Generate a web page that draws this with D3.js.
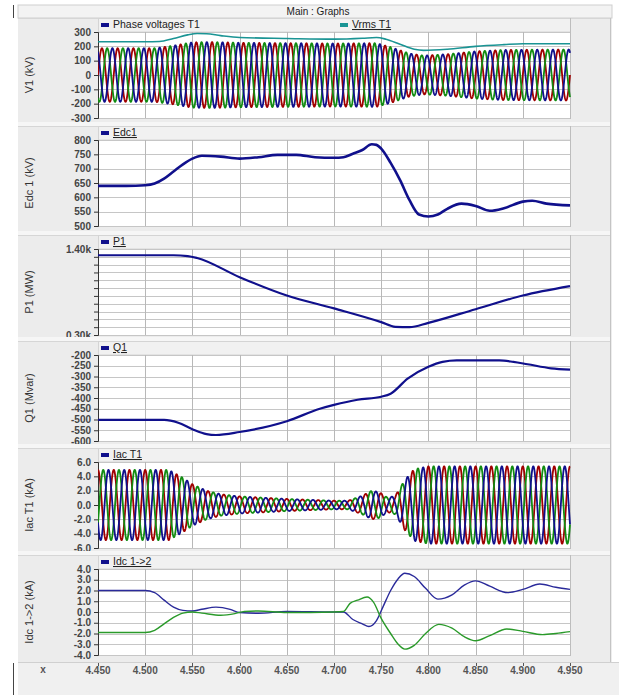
<!DOCTYPE html>
<html>
<head>
<meta charset="utf-8">
<script src="https://cdn.jsdelivr.net/npm/d3@7"></script>
<style>
  body { margin: 0; background: #fff; font-family: "Liberation Sans", Arial, sans-serif; }
</style>
</head>
<body>
<div id="chart"></div>
<script>
// ---- data (time in s) ----
var xTicks = [4.45, 4.5, 4.55, 4.6, 4.65, 4.7, 4.75, 4.8, 4.85, 4.9, 4.95];
var freq = 60; // Hz, carrier for the 3-phase waveforms

// envelope of phase voltages (kV peak)
var vPhaseEnv = [[4.45,187],[4.51,187],[4.53,205],[4.55,228],[4.57,230],[4.6,225],[4.7,220],[4.745,222],
  [4.76,195],[4.78,150],[4.795,135],[4.82,145],[4.85,165],[4.88,175],[4.95,178]];
var vrms = [[4.45,232],[4.5,232],[4.515,234],[4.53,255],[4.545,280],[4.555,290],[4.565,288],[4.58,275],
  [4.6,262],[4.65,255],[4.7,250],[4.73,256],[4.745,262],[4.755,250],[4.77,215],[4.785,180],[4.795,172],
  [4.82,180],[4.85,200],[4.88,212],[4.9,218],[4.95,218]];
var edc1 = [[4.45,640],[4.48,640],[4.5,642],[4.51,648],[4.52,665],[4.53,690],[4.54,715],[4.55,735],[4.56,745],
  [4.58,742],[4.6,735],[4.62,740],[4.64,748],[4.66,748],[4.68,740],[4.7,738],[4.71,740],[4.72,752],[4.73,765],
  [4.74,785],[4.745,783],[4.75,770],[4.76,720],[4.77,660],[4.78,590],[4.79,540],[4.8,533],[4.81,540],[4.82,560],
  [4.835,578],[4.85,570],[4.865,553],[4.88,562],[4.9,585],[4.91,588],[4.925,578],[4.95,572]];
var p1 = [[4.45,1320],[4.53,1320],[4.545,1310],[4.555,1285],[4.6,1040],[4.65,805],[4.7,640],[4.75,465],
  [4.765,405],[4.78,400],[4.8,455],[4.85,630],[4.9,805],[4.95,925]];
var q1 = [[4.45,-502],[4.52,-502],[4.535,-515],[4.55,-545],[4.565,-568],[4.575,-572],[4.6,-558],[4.65,-508],
  [4.685,-450],[4.7,-432],[4.725,-408],[4.75,-394],[4.76,-380],[4.778,-310],[4.8,-255],[4.815,-232],[4.83,-225],
  [4.875,-225],[4.89,-232],[4.905,-243],[4.93,-262],[4.95,-268]];
// envelope of phase currents (kA peak)
var iacEnv = [[4.45,4.9],[4.525,4.9],[4.54,3.8],[4.55,2.9],[4.565,2.0],[4.58,1.5],[4.6,1.2],[4.65,0.85],
  [4.7,0.6],[4.715,0.6],[4.73,1.3],[4.74,2.0],[4.748,1.8],[4.757,1.0],[4.765,1.3],[4.775,3.5],[4.785,5.0],
  [4.8,5.4],[4.95,5.4]];
var idcPos = [[4.45,2.0],[4.5,2.0],[4.51,1.8],[4.52,1.1],[4.53,0.45],[4.54,0.15],[4.55,0.1],[4.56,0.25],
  [4.575,0.45],[4.59,0.25],[4.6,-0.05],[4.62,-0.12],[4.65,0.05],[4.7,0.0],[4.71,0.0],[4.72,-0.7],[4.73,-1.1],
  [4.737,-1.35],[4.745,-0.8],[4.752,0.5],[4.76,2.0],[4.768,3.1],[4.775,3.6],[4.785,3.3],[4.797,2.2],[4.81,1.2],
  [4.825,1.6],[4.838,2.5],[4.85,2.9],[4.865,2.4],[4.884,1.8],[4.9,2.1],[4.918,2.6],[4.935,2.3],[4.95,2.1]];
var idcNeg = [[4.45,-1.9],[4.5,-1.9],[4.51,-1.7],[4.52,-1.1],[4.53,-0.5],[4.54,-0.1],[4.55,0.0],[4.56,-0.1],
  [4.58,-0.3],[4.595,-0.15],[4.605,0.05],[4.62,0.1],[4.65,-0.05],[4.7,0.0],[4.71,0.05],[4.717,0.8],[4.725,1.1],
  [4.735,1.4],[4.742,0.9],[4.75,-0.6],[4.76,-2.0],[4.768,-3.0],[4.775,-3.45],[4.785,-3.1],[4.797,-2.0],
  [4.811,-1.15],[4.825,-1.5],[4.838,-2.3],[4.85,-2.68],[4.865,-2.2],[4.883,-1.58],[4.9,-1.8],[4.921,-2.1],
  [4.935,-2.0],[4.95,-1.83]];

var phaseColors = ['#a00000', '#128c12', '#10108c'];

var W = 619, H = 695;
var svg = d3.select('#chart').append('svg').attr('width', W).attr('height', H);

var x = d3.scaleLinear().domain([4.45, 4.95]).range([98, 570]);

// window frame
svg.append('rect').attr('x', 18).attr('y', 5).attr('width', 594).attr('height', 658).attr('fill', '#ededed');
svg.append('rect').attr('x', 18).attr('y', 5).attr('width', 594).attr('height', 13).attr('fill', '#f3f3f3')
  .attr('stroke', '#cfcfcf');
svg.append('text').attr('x', 318).attr('y', 15).attr('text-anchor', 'middle')
  .style('font-size', '10px').attr('fill', '#222').text('Main : Graphs');
svg.append('rect').attr('x', 18).attr('y', 662).attr('width', 601).attr('height', 33).attr('fill', '#f0f0f0');
svg.append('line').attr('x1', 18).attr('x2', 619).attr('y1', 662.5).attr('y2', 662.5).attr('stroke', '#d0d0d0');
svg.append('line').attr('x1', 13.5).attr('x2', 13.5).attr('y1', 5).attr('y2', 18).attr('stroke', '#444');
svg.append('line').attr('x1', 13.5).attr('x2', 13.5).attr('y1', 663).attr('y2', 695).attr('stroke', '#444');
svg.append('line').attr('x1', 610.5).attr('x2', 610.5).attr('y1', 18).attr('y2', 662).attr('stroke', '#c4c4c4');

function sampled(env, phaseDeg) {
  var amp = d3.scaleLinear().domain(env.map(d => d[0])).range(env.map(d => d[1]));
  return d3.range(4.45, 4.9501, 0.0002).map(t => [t, amp(t) * Math.sin(2 * Math.PI * freq * t + phaseDeg * Math.PI / 180)]);
}

// plain hyphen for negatives, as in the original
function hy(f) { return v => f(v).replace('\u2212', '-'); }

var panels = [
  { top: 32, dom: [-300, 300], ticks: d3.range(-300, 301, 100), fmt: hy(d3.format('d')), label: 'V1 (kV)',
    legend: [{ name: 'Phase voltages T1', color: '#10108c', x: 101, u: false }, { name: 'Vrms T1', color: '#1a9494', x: 340, u: true }] },
  { top: 140, dom: [500, 800], ticks: d3.range(500, 801, 50), fmt: hy(d3.format('d')), label: 'Edc 1 (kV)',
    legend: [{ name: 'Edc1', color: '#10108c', x: 101, u: true }] },
  { top: 249, dom: [300, 1400], ticks: d3.range(300, 1401, 100), fmt: v => (v === 300 || v === 1400) ? (v / 1000).toFixed(2) + 'k' : '', label: 'P1 (MW)',
    legend: [{ name: 'P1', color: '#10108c', x: 101, u: true }] },
  { top: 355, dom: [-600, -200], ticks: d3.range(-600, -199, 50), fmt: hy(d3.format('d')), label: 'Q1 (Mvar)',
    legend: [{ name: 'Q1', color: '#10108c', x: 101, u: true }] },
  { top: 462, dom: [-6, 6], ticks: d3.range(-6, 6.01, 2), fmt: hy(d3.format('.1f')), label: 'Iac T1 (kA)',
    legend: [{ name: 'Iac T1', color: '#10108c', x: 101, u: true }] },
  { top: 569, dom: [-4, 4], ticks: d3.range(-4, 4.01, 1), fmt: hy(d3.format('.1f')), label: 'Idc 1->2 (kA)',
    legend: [{ name: 'Idc 1->2', color: '#10108c', x: 101, u: true }] }
];
var ph = 86;

panels.forEach(function(p, i) {
  var outerTop = p.top - 14;
  var outerBot = i < panels.length - 1 ? panels[i + 1].top - 18 : 662;
  var g = svg.append('g');
  g.append('rect').attr('x', 18).attr('y', outerTop).attr('width', 592).attr('height', outerBot - outerTop)
    .attr('fill', '#ececec');
  g.append('line').attr('x1', 18).attr('x2', 610).attr('y1', outerTop + 0.5).attr('y2', outerTop + 0.5).attr('stroke', '#d6d6d6');
  if (i > 0) g.append('rect').attr('x', 18).attr('y', outerTop - 4).attr('width', 592).attr('height', 4).attr('fill', '#f6f6f6');
  // legend strip
  g.append('rect').attr('x', 98.5).attr('y', outerTop + 0.5).attr('width', 472).attr('height', 13.5)
    .attr('fill', '#f1f1f1').attr('stroke', '#d4d4d4');

  var y = d3.scaleLinear().domain(p.dom).range([p.top + ph, p.top]);
  g.append('rect').attr('x', 98).attr('y', p.top).attr('width', 472).attr('height', ph).attr('fill', '#fff');
  g.selectAll('.hg').data(p.ticks).enter().append('line')
    .attr('x1', 98).attr('x2', 570).attr('y1', d => Math.round(y(d)) + 0.5).attr('y2', d => Math.round(y(d)) + 0.5)
    .attr('stroke', '#c6c6c6');
  g.selectAll('.vg').data(xTicks).enter().append('line')
    .attr('x1', d => Math.round(x(d)) + 0.5).attr('x2', d => Math.round(x(d)) + 0.5)
    .attr('y1', p.top).attr('y2', p.top + ph).attr('stroke', '#b8b8b8');
  g.append('line').attr('x1', 570.5).attr('x2', 570.5).attr('y1', outerTop).attr('y2', p.top + ph + 1).attr('stroke', '#bdbdbd');

  var ax = g.append('g').attr('transform', 'translate(98,0)')
    .call(d3.axisLeft(y).tickValues(p.ticks).tickFormat(p.fmt).tickSize(4).tickPadding(3));
  ax.select('.domain').attr('stroke', '#333');
  ax.selectAll('line').attr('stroke', '#333');
  ax.selectAll('text').style('font-size', '10px').style('font-weight', 'bold').attr('fill', '#444')
    .style('font-family', '"Liberation Sans", Arial, sans-serif');

  g.append('text').attr('transform', 'translate(33,' + (p.top + ph / 2) + ') rotate(-90)')
    .attr('text-anchor', 'middle').style('font-size', '11px').attr('fill', '#333').text(p.label);

  p.legend.forEach(function(l) {
    g.append('rect').attr('x', l.x).attr('y', p.top - 9).attr('width', 8).attr('height', 4).attr('fill', l.color);
    var t = g.append('text').attr('x', l.x + 12).attr('y', p.top - 4).style('font-size', '10.5px').attr('fill', '#222').text(l.name);
    if (l.u) t.style('text-decoration', 'underline');
  });

  p.y = y;
  p.g = g.append('g');
});

// clip each plot area
panels.forEach(function(p, i) {
  svg.append('clipPath').attr('id', 'clip' + i).append('rect')
    .attr('x', 98).attr('y', p.top).attr('width', 473).attr('height', ph + 1);
  p.g.attr('clip-path', 'url(#clip' + i + ')');
});

function draw(p, data, color, width, curve) {
  p.g.append('path').datum(data).attr('fill', 'none').attr('stroke', color).attr('stroke-width', width)
    .attr('stroke-linejoin', 'round')
    .attr('d', d3.line().x(d => x(d[0])).y(d => p.y(d[1])).curve(curve || d3.curveMonotoneX));
}

// panel 1: phase voltages + Vrms
[0, -120, 120].forEach(function(ph, k) { draw(panels[0], sampled(vPhaseEnv, ph), phaseColors[k], 1.8, d3.curveLinear); });
draw(panels[0], vrms, '#1a9494', 1.6);
// panel 2
draw(panels[1], edc1, '#10108c', 2.6);
// panel 3
draw(panels[2], p1, '#10108c', 2.2);
// panel 4
draw(panels[3], q1, '#10108c', 2.2);
// panel 5
[0, -120, 120].forEach(function(ph, k) { draw(panels[4], sampled(iacEnv, ph + 90), phaseColors[k], 1.8, d3.curveLinear); });
// panel 6
draw(panels[5], idcPos, '#2a2a9a', 1.4);
draw(panels[5], idcNeg, '#2a9a2a', 1.4);

// x axis labels
svg.selectAll('.xl').data(xTicks).enter().append('text')
  .attr('x', d => x(d)).attr('y', 674).attr('text-anchor', 'middle')
  .style('font-size', '10px').style('font-weight', 'bold').attr('fill', '#555')
  .text(d3.format('.3f'));
svg.selectAll('.xt').data(xTicks).enter().append('line')
  .attr('x1', d => Math.round(x(d)) + 0.5).attr('x2', d => Math.round(x(d)) + 0.5)
  .attr('y1', 663).attr('y2', 666).attr('stroke', '#555');
svg.append('text').attr('x', 43).attr('y', 673).attr('text-anchor', 'middle')
  .style('font-size', '10px').style('font-weight', 'bold').attr('fill', '#555').text('x');
</script>
</body>
</html>
